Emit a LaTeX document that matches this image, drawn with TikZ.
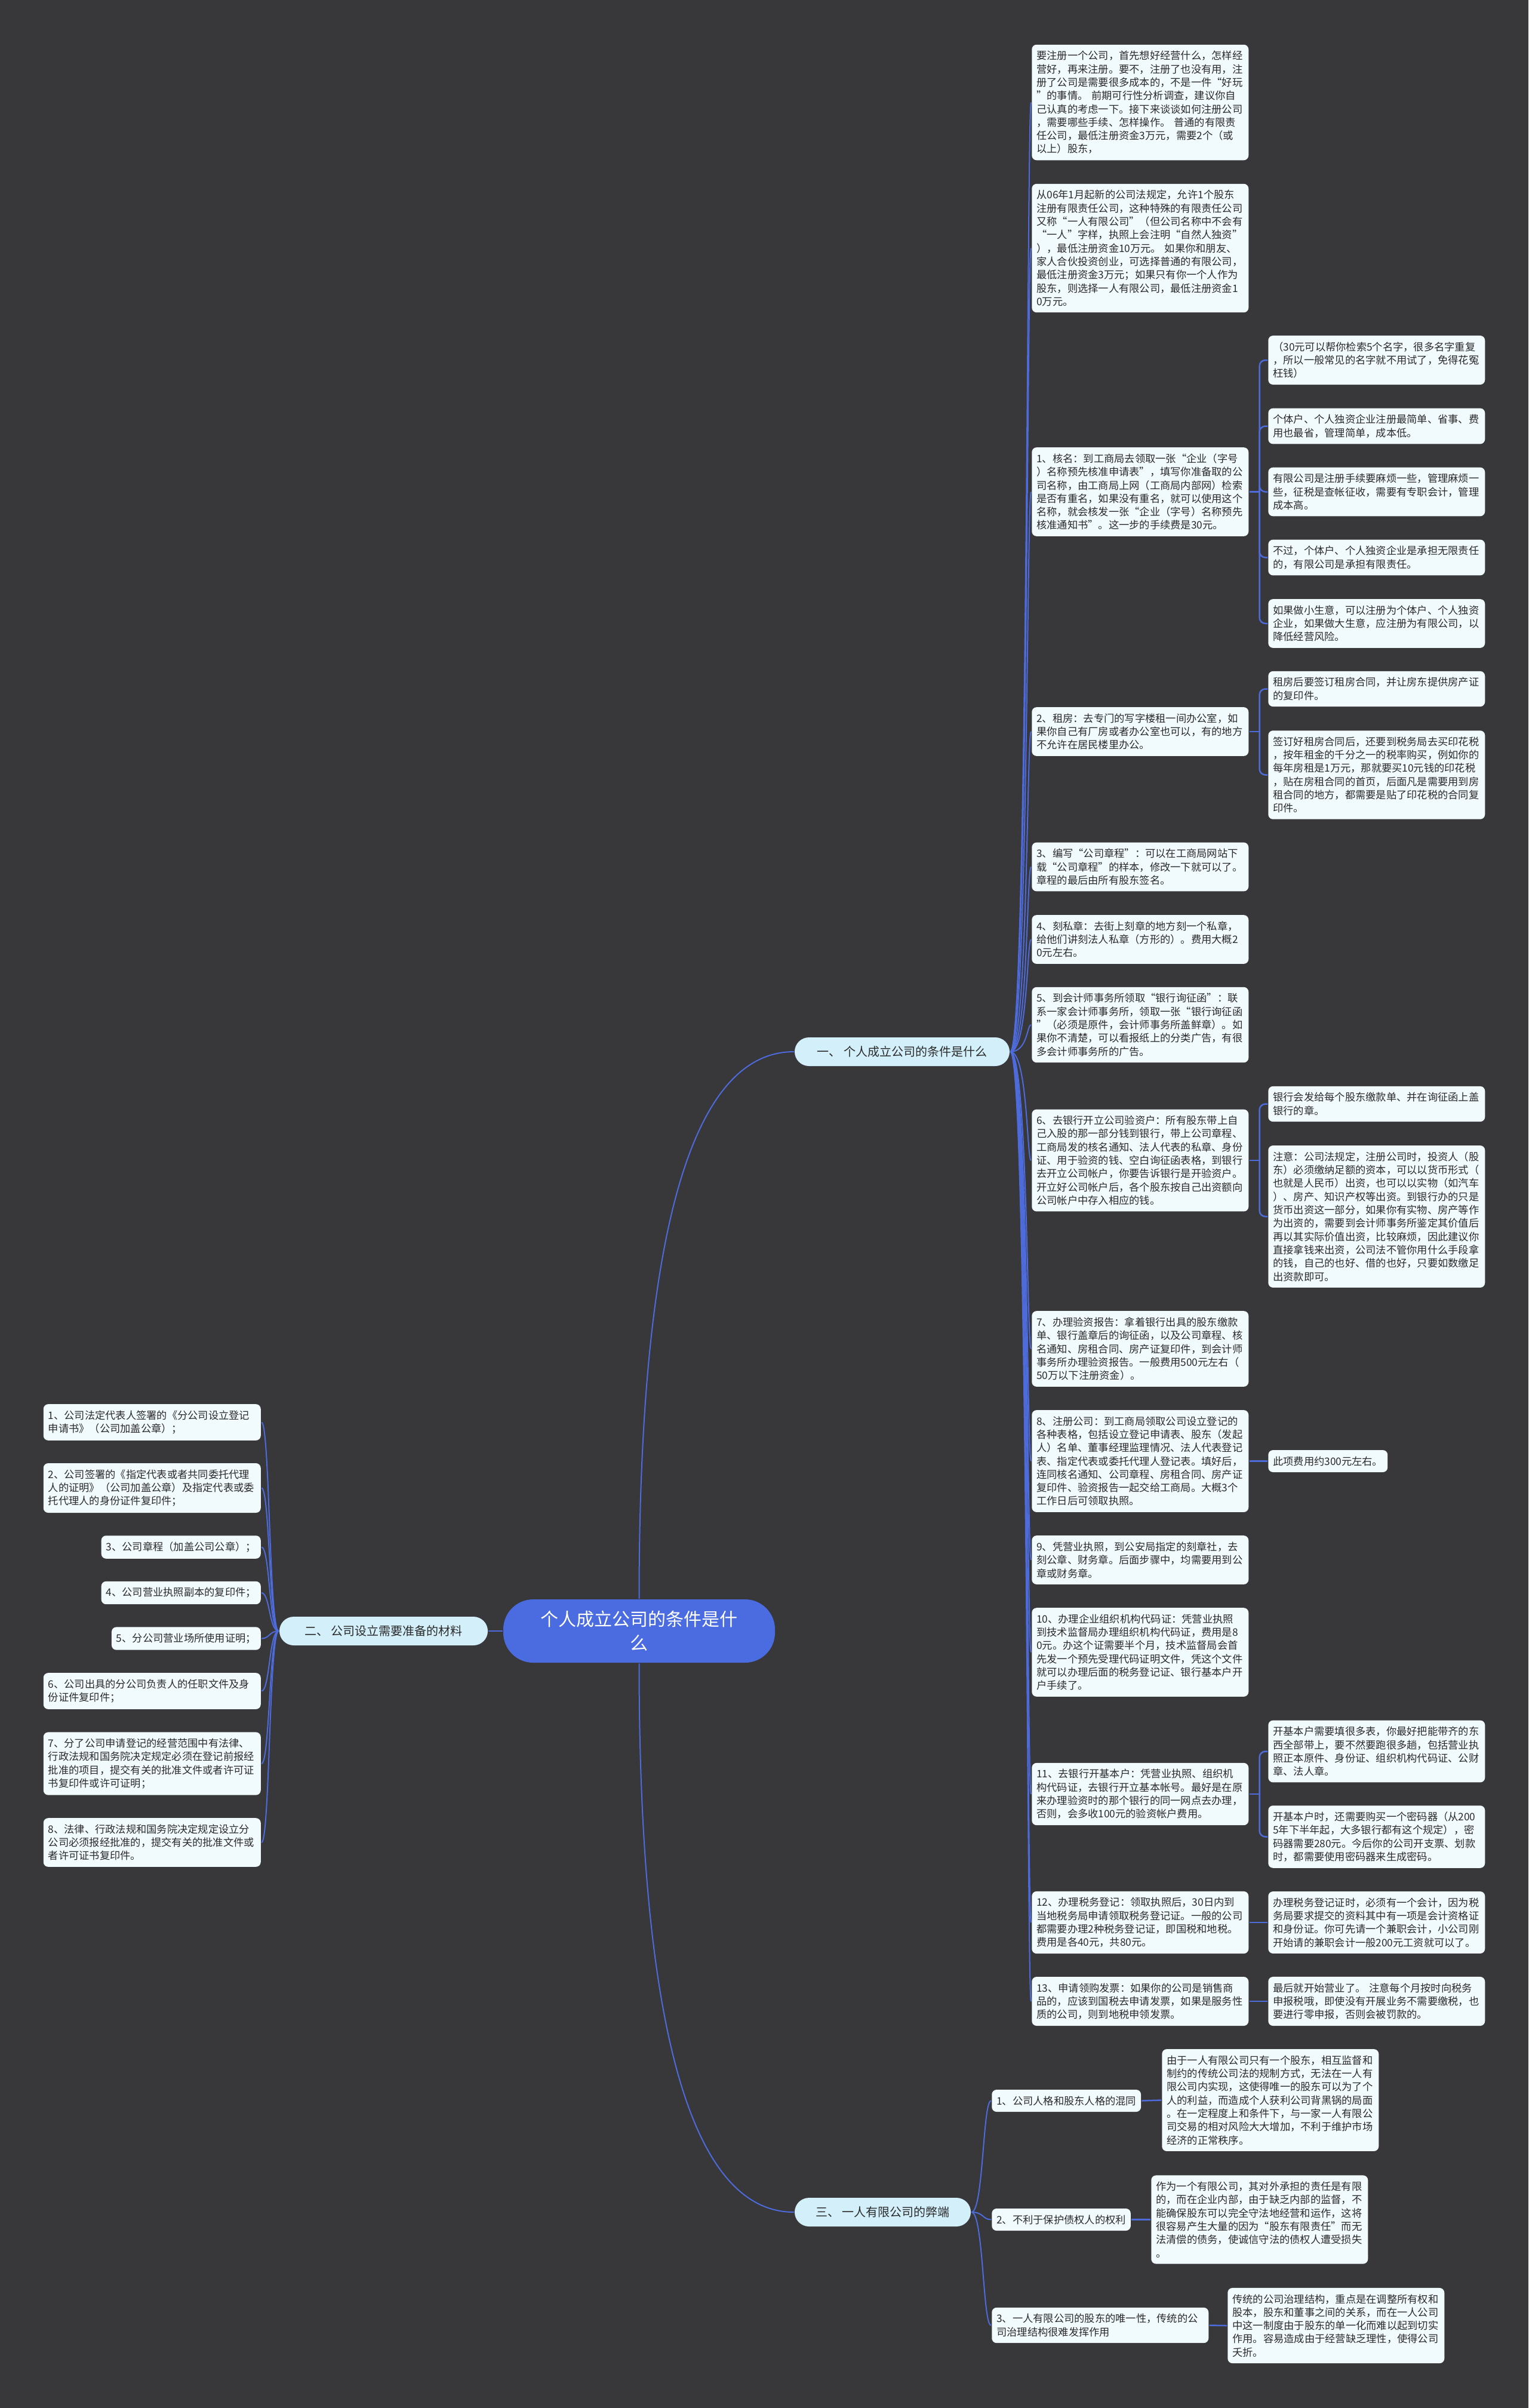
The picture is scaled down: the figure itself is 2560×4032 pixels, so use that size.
\documentclass[tikz,border=0pt]{standalone}
\usepackage{fontspec}
\setmainfont{Noto Sans CJK SC}

\definecolor{bgdark}{HTML}{38373A}
\definecolor{boxfill}{HTML}{F1FAFD}
\definecolor{branchfill}{HTML}{D3EFFA}
\definecolor{rootblue}{HTML}{4A6CE0}
\definecolor{linkblue}{HTML}{4D6BDA}
\definecolor{ink}{HTML}{2A2A2A}

\begin{document}
\begin{tikzpicture}[x=1pt, y=-1pt, line width=2.5pt,
  bx/.style={fill=boxfill, rounded corners=8pt, text=ink, inner xsep=8pt, inner ysep=10.5pt, align=left, font=\fontsize{17.25}{22.3}\selectfont},
  rt/.style={bx, text width=347pt, anchor=west},
  lt/.style={bx, text width=348pt, anchor=east},
  rone/.style={bx, anchor=west},
  lone/.style={bx, anchor=east},
  br/.style={fill=branchfill, rounded corners=24pt, minimum height=48pt, inner xsep=10pt, text=ink, font=\fontsize{20}{24}\selectfont},
  root/.style={fill=rootblue, rounded corners=50pt, minimum width=455pt, minimum height=106pt, text=white, align=center, font=\fontsize{30}{40}\selectfont},
  ln/.style={draw=linkblue, line width=2.5pt},
  fan/.style={draw=linkblue, line width=2pt}]
  \useasboundingbox (0,0) rectangle (2560,4032);
  \fill[bgdark] (0,0) rectangle (2560,4032);

  % centre and main branches
  \node[root] (ct) at (1070.5,2731) {个人成立公司的条件是什\\么};
  \node[br, minimum width=360pt] (brI) at (1511,1761) {一、~个人成立公司的条件是什么};
  \node[br, minimum width=349pt] (brII) at (642.5,2731) {二、~公司设立需要准备的材料};
  \node[br, minimum width=295pt] (brIII) at (1478.5,3704) {三、~一人有限公司的弊端};

  % branch one
  \node[rt] (b1) at (1727,171.5) {要注册一个公司，首先想好经营什么，怎样经\\营好，再来注册。要不，注册了也没有用，注\\册了公司是需要很多成本的，不是一件“好玩\\”的事情。~前期可行性分析调查，建议你自\\己认真的考虑一下。接下来谈谈如何注册公司\\，需要哪些手续、怎样操作。~普通的有限责\\任公司，最低注册资金3万元，需要2个（或\\以上）股东，};
  \node[rt] (b2) at (1727,415.5) {从06年1月起新的公司法规定，允许1个股东\\注册有限责任公司，这种特殊的有限责任公司\\又称“一人有限公司”（但公司名称中不会有\\“一人”字样，执照上会注明“自然人独资”\\），最低注册资金10万元。~如果你和朋友、\\家人合伙投资创业，可选择普通的有限公司，\\最低注册资金3万元；如果只有你一个人作为\\股东，则选择一人有限公司，最低注册资金1\\0万元。};
  \node[rt] (hm) at (1727,823.5) {1、核名：到工商局去领取一张“企业（字号\\）名称预先核准申请表”，填写你准备取的公\\司名称，由工商局上网（工商局内部网）检索\\是否有重名，如果没有重名，就可以使用这个\\名称，就会核发一张“企业（字号）名称预先\\核准通知书”。这一步的手续费是30元。};
  \node[rt] (zf) at (1727,1225) {2、租房：去专门的写字楼租一间办公室，如\\果你自己有厂房或者办公室也可以，有的地方\\不允许在居民楼里办公。};
  \node[rt] (b3) at (1727,1451.5) {3、编写“公司章程”：可以在工商局网站下\\载“公司章程”的样本，修改一下就可以了。\\章程的最后由所有股东签名。};
  \node[rt] (b4) at (1727,1573) {4、刻私章：去街上刻章的地方刻一个私章，\\给他们讲刻法人私章（方形的）。费用大概2\\0元左右。};
  \node[rt] (b5) at (1727,1716) {5、到会计师事务所领取“银行询征函”：联\\系一家会计师事务所，领取一张“银行询征函\\”（必须是原件，会计师事务所盖鲜章）。如\\果你不清楚，可以看报纸上的分类广告，有很\\多会计师事务所的广告。};
  \node[rt] (b6) at (1727,1943) {6、去银行开立公司验资户：所有股东带上自\\己入股的那一部分钱到银行，带上公司章程、\\工商局发的核名通知、法人代表的私章、身份\\证、用于验资的钱、空白询征函表格，到银行\\去开立公司帐户，你要告诉银行是开验资户。\\开立好公司帐户后，各个股东按自己出资额向\\公司帐户中存入相应的钱。};
  \node[rt] (b7) at (1727,2258.5) {7、办理验资报告：拿着银行出具的股东缴款\\单、银行盖章后的询征函，以及公司章程、核\\名通知、房租合同、房产证复印件，到会计师\\事务所办理验资报告。一般费用500元左右（\\50万以下注册资金）。};
  \node[rt] (b8) at (1727,2446.5) {8、注册公司：到工商局领取公司设立登记的\\各种表格，包括设立登记申请表、股东（发起\\人）名单、董事经理监理情况、法人代表登记\\表、指定代表或委托代理人登记表。填好后，\\连同核名通知、公司章程、房租合同、房产证\\复印件、验资报告一起交给工商局。大概3个\\工作日后可领取执照。};
  \node[rt] (b9) at (1727,2612) {9、凭营业执照，到公安局指定的刻章社，去\\刻公章、财务章。后面步骤中，均需要用到公\\章或财务章。};
  \node[rt] (b10) at (1727,2766.5) {10、办理企业组织机构代码证：凭营业执照\\到技术监督局办理组织机构代码证，费用是8\\0元。办这个证需要半个月，技术监督局会首\\先发一个预先受理代码证明文件，凭这个文件\\就可以办理后面的税务登记证、银行基本户开\\户手续了。};
  \node[rt] (b11) at (1727,3004) {11、去银行开基本户：凭营业执照、组织机\\构代码证，去银行开立基本帐号。最好是在原\\来办理验资时的那个银行的同一网点去办理，\\否则，会多收100元的验资帐户费用。};
  \node[rt] (b12) at (1727,3219) {12、办理税务登记：领取执照后，30日内到\\当地税务局申请领取税务登记证。一般的公司\\都需要办理2种税务登记证，即国税和地税。\\费用是各40元，共80元。};
  \node[rt] (b13) at (1727,3351) {13、申请领购发票：如果你的公司是销售商\\品的，应该到国税去申请发票，如果是服务性\\质的公司，则到地税申领发票。};

  % details of branch one
  \node[rt] (sA) at (2123,603) {（30元可以帮你检索5个名字，很多名字重复\\，所以一般常见的名字就不用试了，免得花冤\\枉钱）};
  \node[rt] (sB) at (2123,713.5) {个体户、个人独资企业注册最简单、省事、费\\用也最省，管理简单，成本低。};
  \node[rt] (sC) at (2123,823.5) {有限公司是注册手续要麻烦一些，管理麻烦一\\些，征税是查帐征收，需要有专职会计，管理\\成本高。};
  \node[rt] (sD) at (2123,933.5) {不过，个体户、个人独资企业是承担无限责任\\的，有限公司是承担有限责任。};
  \node[rt] (sE) at (2123,1044) {如果做小生意，可以注册为个体户、个人独资\\企业，如果做大生意，应注册为有限公司，以\\降低经营风险。};
  \node[rt] (sF) at (2123,1153.5) {租房后要签订租房合同，并让房东提供房产证\\的复印件。};
  \node[rt] (sG) at (2123,1297.5) {签订好租房合同后，还要到税务局去买印花税\\，按年租金的千分之一的税率购买，例如你的\\每年房租是1万元，那就要买10元钱的印花税\\，贴在房租合同的首页，后面凡是需要用到房\\租合同的地方，都需要是贴了印花税的合同复\\印件。};
  \node[rt] (sH) at (2123,1848.5) {银行会发给每个股东缴款单、并在询征函上盖\\银行的章。};
  \node[rt] (sI) at (2123,2037) {注意：公司法规定，注册公司时，投资人（股\\东）必须缴纳足额的资本，可以以货币形式（\\也就是人民币）出资，也可以以实物（如汽车\\）、房产、知识产权等出资。到银行办的只是\\货币出资这一部分，如果你有实物、房产等作\\为出资的，需要到会计师事务所鉴定其价值后\\再以其实际价值出资，比较麻烦，因此建议你\\直接拿钱来出资，公司法不管你用什么手段拿\\的钱，自己的也好、借的也好，只要如数缴足\\出资款即可。};
  \node[rone] (sJ) at (2123,2446.5) {此项费用约300元左右。};
  \node[rt] (sK) at (2123,2932.5) {开基本户需要填很多表，你最好把能带齐的东\\西全部带上，要不然要跑很多趟，包括营业执\\照正本原件、身份证、组织机构代码证、公财\\章、法人章。};
  \node[rt] (sL) at (2123,3075.5) {开基本户时，还需要购买一个密码器（从200\\5年下半年起，大多银行都有这个规定），密\\码器需要280元。今后你的公司开支票、划款\\时，都需要使用密码器来生成密码。};
  \node[rt] (sM) at (2123,3219) {办理税务登记证时，必须有一个会计，因为税\\务局要求提交的资料其中有一项是会计资格证\\和身份证。你可先请一个兼职会计，小公司刚\\开始请的兼职会计一般200元工资就可以了。};
  \node[rt] (sN) at (2123,3351) {最后就开始营业了。~注意每个月按时向税务\\申报税哦，即使没有开展业务不需要缴税，也\\要进行零申报，否则会被罚款的。};

  % branch two
  \node[lt] (L1) at (438,2381.5) {1、公司法定代表人签署的《分公司设立登记\\申请书》（公司加盖公章）；};
  \node[lt] (L2) at (438,2491.5) {2、公司签署的《指定代表或者共同委托代理\\人的证明》（公司加盖公章）及指定代表或委\\托代理人的身份证件复印件；};
  \node[lone] (L3) at (438,2590.5) {3、公司章程（加盖公司公章）；};
  \node[lone] (L4) at (438,2667) {4、公司营业执照副本的复印件；};
  \node[lone] (L5) at (438,2743.5) {5、分公司营业场所使用证明；};
  \node[lt] (L6) at (438,2831.5) {6、公司出具的分公司负责人的任职文件及身\\份证件复印件；};
  \node[lt] (L7) at (438,2953) {7、分了公司申请登记的经营范围中有法律、\\行政法规和国务院决定规定必须在登记前报经\\批准的项目，提交有关的批准文件或者许可证\\书复印件或许可证明；};
  \node[lt] (L8) at (438,3085) {8、法律、行政法规和国务院决定规定设立分\\公司必须报经批准的，提交有关的批准文件或\\者许可证书复印件。};

  % branch three
  \node[rone] (t1) at (1660,3517.5) {1、公司人格和股东人格的混同};
  \node[rone] (t2) at (1660,3716.5) {2、不利于保护债权人的权利};
  \node[rt] (t3) at (1660,3893.5) {3、一人有限公司的股东的唯一性，传统的公\\司治理结构很难发挥作用};
  \node[rt] (sO) at (1945,3516.5) {由于一人有限公司只有一个股东，相互监督和\\制约的传统公司法的规制方式，无法在一人有\\限公司内实现，这使得唯一的股东可以为了个\\人的利益，而造成个人获利公司背黑锅的局面\\。在一定程度上和条件下，与一家一人有限公\\司交易的相对风险大大增加，不利于维护市场\\经济的正常秩序。};
  \node[rt] (sP) at (1927,3716.5) {作为一个有限公司，其对外承担的责任是有限\\的，而在企业内部，由于缺乏内部的监督，不\\能确保股东可以完全守法地经营和运作，这将\\很容易产生大量的因为“股东有限责任”而无\\法清偿的债务，使诚信守法的债权人遭受损失\\。};
  \node[rt] (sQ) at (2055,3894) {传统的公司治理结构，重点是在调整所有权和\\股本，股东和董事之间的关系，而在一人公司\\中这一制度由于股东的单一化而难以起到切实\\作用。容易造成由于经营缺乏理性，使得公司\\夭折。};

  % connectors
  \draw[fan] (ct.north) .. controls +(0,-580) and +(-180,0) .. (brI.west);
  \draw[fan] (ct.south) .. controls +(0,580) and +(-180,0) .. (brIII.west);
  \draw[fan] (ct.west) -- (brII.east);
  \foreach \n in {b1,b2,hm,zf,b3,b4,b5,b6,b7,b8,b9,b10,b11,b12,b13}
    \draw[fan] (brI.east) .. controls +(29,0) and +(-7,0) .. (\n.west);
  \foreach \n in {L1,L2,L3,L4,L5,L6,L7,L8}
    \draw[fan] (brII.west) .. controls +(-16,0) and +(14,0) .. (\n.east);
  \foreach \n in {t1,t2,t3}
    \draw[fan] (brIII.east) .. controls +(20,0) and +(-14,0) .. (\n.west);
  \foreach \a/\b in {b8/sJ,b12/sM,b13/sN,t1/sO,t2/sP,t3/sQ}
    \draw[ln] (\a.east) -- (\b.west);
  \foreach \a/\subs in {hm/{sA,sB,sC,sD,sE},zf/{sF,sG},b6/{sH,sI},b11/{sK,sL}} {
    \coordinate (\a j) at ([xshift=17pt]\a.east);
    \draw[ln] (\a.east) -- (\a j);
    \foreach \s in \subs \draw[ln, rounded corners=10pt] (\a j) |- (\s.west);
  }
\end{tikzpicture}
\end{document}
